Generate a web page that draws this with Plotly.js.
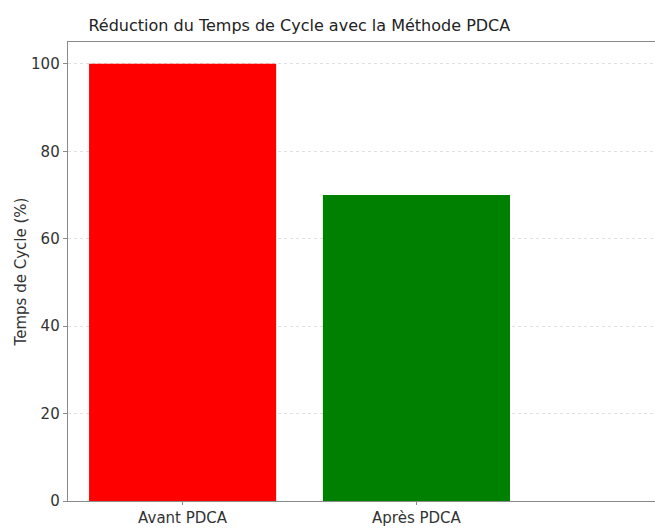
<!DOCTYPE html>
<html>
<head>
<meta charset="utf-8">
<script src="https://cdn.plot.ly/plotly-3.0.1.min.js"></script>
<style>html,body{margin:0;padding:0;overflow:hidden;background:#fff;}</style>
</head>
<body>
<div id="chart" style="width:655px;height:529px;"></div>
<script>
const categories = ["Avant PDCA", "Après PDCA"];
const values = [100, 70];
const barColors = ["#ff0000", "#008000"];
const yTicks = [0, 20, 40, 60, 80, 100];

const FONT = "DejaVu Sans, sans-serif";

Plotly.newPlot("chart", [{
  type: "bar",
  x: categories,
  y: values,
  width: 0.8,
  marker: {color: barColors, line: {width: 0}},
  hoverinfo: "x+y"
}], {
  width: 655,
  height: 529,
  margin: {l: 68, r: 0, t: 42, b: 28},
  paper_bgcolor: "#ffffff",
  plot_bgcolor: "#ffffff",
  showlegend: false,
  font: {family: FONT, color: "#333333", size: 15},
  title: {
    text: "Réduction du Temps de Cycle avec la Méthode PDCA",
    font: {family: FONT, size: 16, color: "#222222"},
    xref: "container", x: 0.457, xanchor: "center",
    yref: "container", y: 0.952, yanchor: "middle"
  },
  xaxis: {
    type: "category",
    range: [-0.49, 2.02],
    showline: true, mirror: true, linecolor: "#8a8a8a", linewidth: 1.3,
    ticks: "outside", ticklen: 3, tickcolor: "#8a8a8a",
    showgrid: false, zeroline: false,
    tickfont: {family: FONT, size: 15, color: "#333333"}
  },
  yaxis: {
    range: [0, 105],
    tickvals: yTicks,
    ticktext: yTicks.map(String),
    showline: true, linecolor: "#8a8a8a", linewidth: 1.3,
    ticks: "outside", ticklen: 4, tickcolor: "#8a8a8a",
    showgrid: true, gridcolor: "#e0e0e0", griddash: "dot", gridwidth: 1,
    zeroline: false,
    tickfont: {family: FONT, size: 15, color: "#333333"},
    title: {text: "Temps de Cycle (%)", font: {family: FONT, size: 15, color: "#333333"}, standoff: 0}
  }
}, {displayModeBar: false, staticPlot: true});
</script>
</body>
</html>
